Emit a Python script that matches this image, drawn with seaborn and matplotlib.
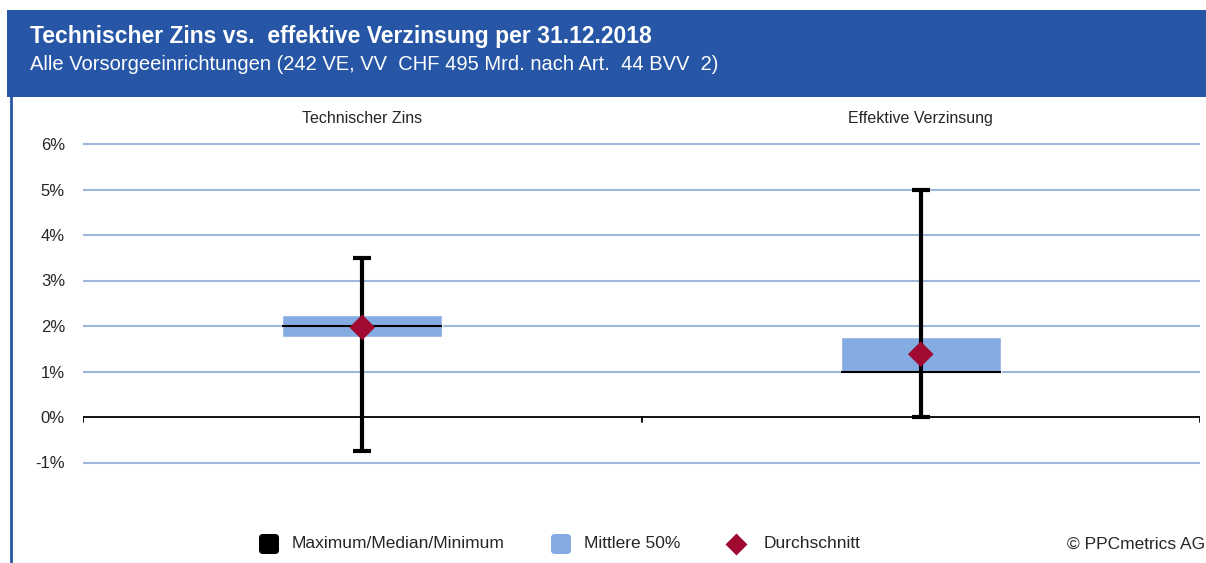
import matplotlib
matplotlib.use("Agg")
import matplotlib.pyplot as plt
import seaborn as sns
import pandas as pd
from matplotlib.patches import Rectangle, FancyBboxPatch

# --- Daten (in %) ---
categories = ["Technischer Zins", "Effektive Verzinsung"]
maximum = [3.5, 5.0]
q3 = [2.25, 1.75]
median = [2.0, 1.0]
q1 = [1.75, 1.0]
minimum = [-0.75, 0.0]
mean = [1.97, 1.38]

title = "Technischer Zins vs.  effektive Verzinsung per 31.12.2018"
subtitle = "Alle Vorsorgeeinrichtungen (242 VE, VV  CHF 495 Mrd. nach Art.  44 BVV  2)"
yticks = [-1, 0, 1, 2, 3, 4, 5, 6]

HEADER_BLUE = "#2656A5"
BOX_BLUE = "#84ACE2"
GRID_BLUE = "#9DB7DB"
DIAMOND = "#A00A30"

sns.set_style("white")
plt.rcParams["font.family"] = ["Liberation Sans", "DejaVu Sans"]

W, H = 1206, 563
fig = plt.figure(figsize=(W / 100, H / 100), dpi=100)

# overlay for header / legend decorations (pixel coords)
deco = fig.add_axes([0, 0, 1, 1])
deco.set_xlim(0, W)
deco.set_ylim(H, 0)
deco.axis("off")
deco.add_patch(Rectangle((7, 10), W - 7, 87, color=HEADER_BLUE, lw=0, zorder=1))
deco.plot([11, 11], [96, H], color=HEADER_BLUE, lw=2, zorder=1)
deco.text(30, 37, title, color="white", fontsize=16.5, fontweight="bold", va="center", ha="left")
deco.text(30, 64, subtitle, color="white", fontsize=14.5, va="center", ha="left")

# --- Hauptplot ---
ax = fig.add_axes([83 / W, 1 - 508 / H, (1200 - 83) / W, (508 - 98.5) / H])
ax.patch.set_alpha(0)
df = pd.DataFrame({"Kategorie": categories, "Mittelwert": mean})
x = range(len(categories))

for y in yticks:
    if y != 0:
        ax.axhline(y, color=GRID_BLUE, lw=1.5, zorder=0)
ax.axhline(0, color="black", lw=1.3, zorder=1)
for xs in [-0.5, 0.5, 1.5]:
    ax.plot([xs, xs], [0, -0.1], color="black", lw=1.3, zorder=1)

box_w = 0.287
ax.bar(list(x), [a - b for a, b in zip(q3, q1)], bottom=q1, width=box_w,
       color=BOX_BLUE, zorder=2)
ax.hlines(median, [i - box_w / 2 for i in x], [i + box_w / 2 for i in x],
          color="black", lw=1.5, zorder=3)
ax.vlines(list(x), minimum, maximum, color="black", lw=3, zorder=3)
cap = 0.016
ax.hlines(maximum + minimum, [i - cap for i in list(x) * 2], [i + cap for i in list(x) * 2],
          color="black", lw=3, zorder=3)
sns.scatterplot(data=df, x="Kategorie", y="Mittelwert", marker="D", s=170,
                color=DIAMOND, edgecolor="none", zorder=4, ax=ax)

for i, c in enumerate(categories):
    ax.text(i, 6.57, c, ha="center", va="center", fontsize=11.5)

ax.set_xlim(-0.5, 1.5)
ax.set_ylim(-2, 7)
ax.set_yticks(yticks)
ax.set_yticklabels([f"{t}%" for t in yticks], fontsize=12)
ax.set_xticks([])
ax.set_xlabel("")
ax.set_ylabel("")
ax.tick_params(axis="y", length=0, pad=13)
for s in ax.spines.values():
    s.set_visible(False)

# --- Legende ---
ly = 544
deco.add_patch(FancyBboxPatch((259, ly - 10), 20, 20, boxstyle="round,pad=0,rounding_size=4",
                              color="black", lw=0))
deco.text(292, ly, "Maximum/Median/Minimum", fontsize=12.5, va="center")
deco.add_patch(FancyBboxPatch((551, ly - 10), 20, 20, boxstyle="round,pad=0,rounding_size=4",
                              color=BOX_BLUE, lw=0))
deco.text(584, ly, "Mittlere 50%", fontsize=12.5, va="center")
deco.plot([736], [ly], marker="D", ms=11, color=DIAMOND, mec="none")
deco.text(764, ly, "Durchschnitt", fontsize=12.5, va="center")
deco.text(1205, ly, "© PPCmetrics AG", fontsize=12.5, va="center", ha="right")

fig.savefig("out.png", dpi=100)
